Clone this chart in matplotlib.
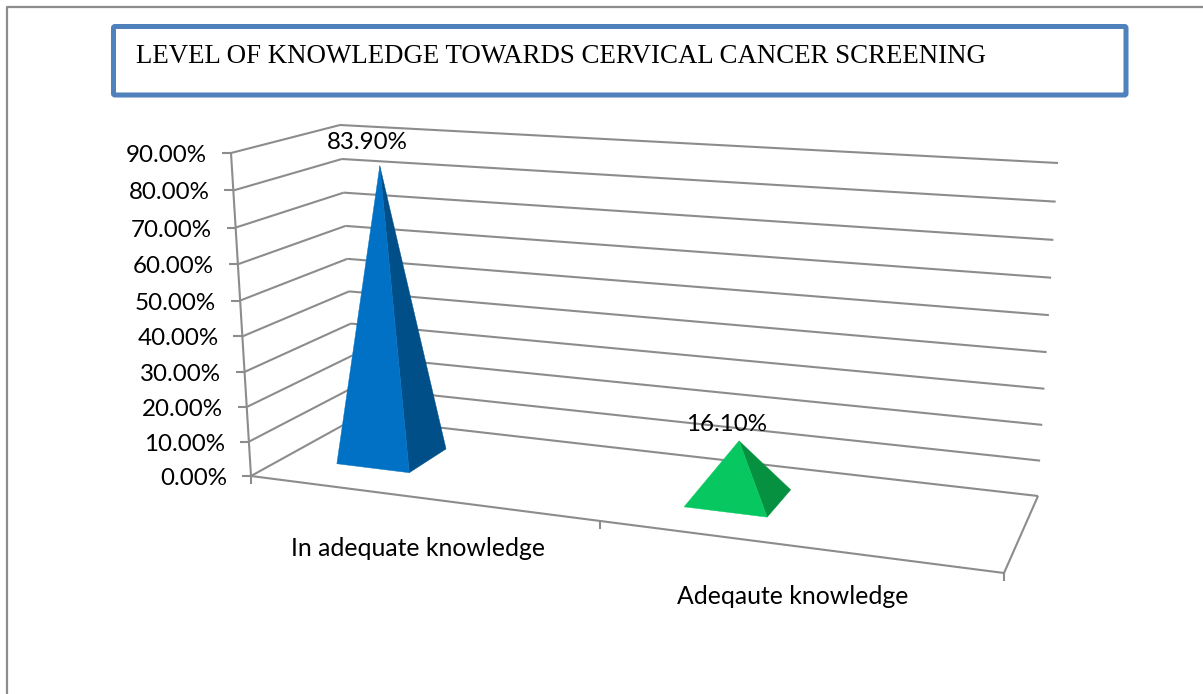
import numpy as np
import matplotlib
matplotlib.use('Agg')
import matplotlib.pyplot as plt
from matplotlib.patches import FancyBboxPatch, Polygon

titulo = "LEVEL OF KNOWLEDGE TOWARDS CERVICAL CANCER SCREENING"
categorias = ["In adequate knowledge", "Adeqaute knowledge"]
valores = [83.90, 16.10]
ticks_y = [0, 10, 20, 30, 40, 50, 60, 70, 80, 90]
y_max = 90.0

GRIS = '#8c8c8c'
COLORES = [('#0071C5', '#004F88'), ('#07C860', '#05913F')]


def homografia(esquinas):
    # (u, d) -> pixel, u along the categories, d towards the back wall
    base = [(0, 0), (1, 0), (0, 1), (1, 1)]
    A = []
    b = []
    for (u, d), (x, y) in zip(base, esquinas):
        A.append([u, d, 1, 0, 0, 0, -u * x, -d * x])
        A.append([0, 0, 0, u, d, 1, -u * y, -d * y])
        b += [x, y]
    h = np.linalg.solve(np.array(A, float), np.array(b, float))
    return np.append(h, 1).reshape(3, 3)


# floor of the 3d box
suelo = [(251, 476), (1004, 573), (356, 418), (1038, 496)]
H_suelo = homografia(suelo)

# how far y_max sits from the floor, as an affine function of the floor pixel
pts = np.array([[251, 476, 1], [356, 418, 1], [1038, 496, 1]], float)
alto_x = np.linalg.solve(pts, np.array([-20, -16, 20], float))
alto_y = np.linalg.solve(pts, np.array([-323, -293, -333], float))


def proy(u, d, v):
    p = H_suelo @ np.array([u, d, 1.0])
    x, y = p[:2] / p[2]
    t = v / y_max
    t = t - 0.05 * t * (1 - t)  # upper gridlines are a bit further apart
    q = np.array([x, y, 1.0])
    return np.array([x + t * (alto_x @ q), y + t * (alto_y @ q)])


fig = plt.figure(figsize=(12.03, 6.94), dpi=100)
ax = fig.add_axes([0, 0, 1, 1])
ax.set_xlim(0, 1203)
ax.set_ylim(694, 0)
ax.axis('off')

fuente = 'Lato'
ft = 17.4


def linea(a, b, lw=1.5):
    ax.plot([a[0], b[0]], [a[1], b[1]], color=GRIS, lw=lw, solid_capstyle='butt', zorder=2)


# outer frame, only left and top are visible
ax.plot([6.5, 6.5, 1203], [694, 6.5, 6.5], color=GRIS, lw=1.6, zorder=1)

# title box
ax.add_patch(FancyBboxPatch((113.5, 26.5), 1012.5, 68.5, boxstyle='round,pad=0,rounding_size=1.5',
                            fc='white', ec='#4F81BD', lw=3.6, zorder=3))
ax.text(136, 56, titulo, family='Liberation Serif', fontsize=19.36, color='black',
        va='center', ha='left', zorder=4)

# walls and value axis
for v in ticks_y:
    a = proy(0, 0, v)
    b = proy(0, 1, v)
    c = proy(1, 1, v)
    linea(a, b)
    linea(b, c)
    linea((a[0] - 9, a[1]), a)
    ax.text(a[0] - 24, a[1] + 2.5, "%.2f%%" % v, family=fuente, fontsize=ft, ha='right', va='center',
            color='black', zorder=6)
linea(proy(0, 0, 0), proy(0, 0, y_max))

# floor
linea(proy(0, 0, 0), proy(1, 0, 0))
linea(proy(1, 0, 0), proy(1, 1, 0))
for u in [0, 0.5, 1]:
    p = proy(u, 0, 0)
    linea(p, (p[0], p[1] + 8))

# pyramids
pos_u = [0.136, 0.636]
medio_u = 0.055
medio_d = 0.195
subir = [23, 16]
for i in range(len(valores)):
    u0 = pos_u[i]
    d0 = 0.495
    fl = proy(u0 - medio_u, d0 - medio_d, 0)
    fr = proy(u0 + medio_u, d0 - medio_d, 0)
    br = proy(u0 + medio_u, d0 + medio_d, 0)
    top = proy(u0, d0, valores[i])
    ax.add_patch(Polygon([fr, br, top], closed=True, fc=COLORES[i][1], ec=COLORES[i][1], lw=0.3, zorder=4))
    ax.add_patch(Polygon([fl, fr, top], closed=True, fc=COLORES[i][0], ec=COLORES[i][0], lw=0.3, zorder=5))
    ax.text(top[0] - 13, top[1] - subir[i], "%.2f%%" % valores[i], family=fuente, fontsize=ft, ha='center',
            va='center', color='black', zorder=6)

# category labels
ax.text(418, 549, categorias[0], family=fuente, fontsize=17.8, ha='center', va='center', color='black', zorder=6)
ax.text(793, 596, categorias[1], family=fuente, fontsize=17.8, ha='center', va='center', color='black', zorder=6)

fig.savefig('out.png', dpi=100, facecolor='white')
